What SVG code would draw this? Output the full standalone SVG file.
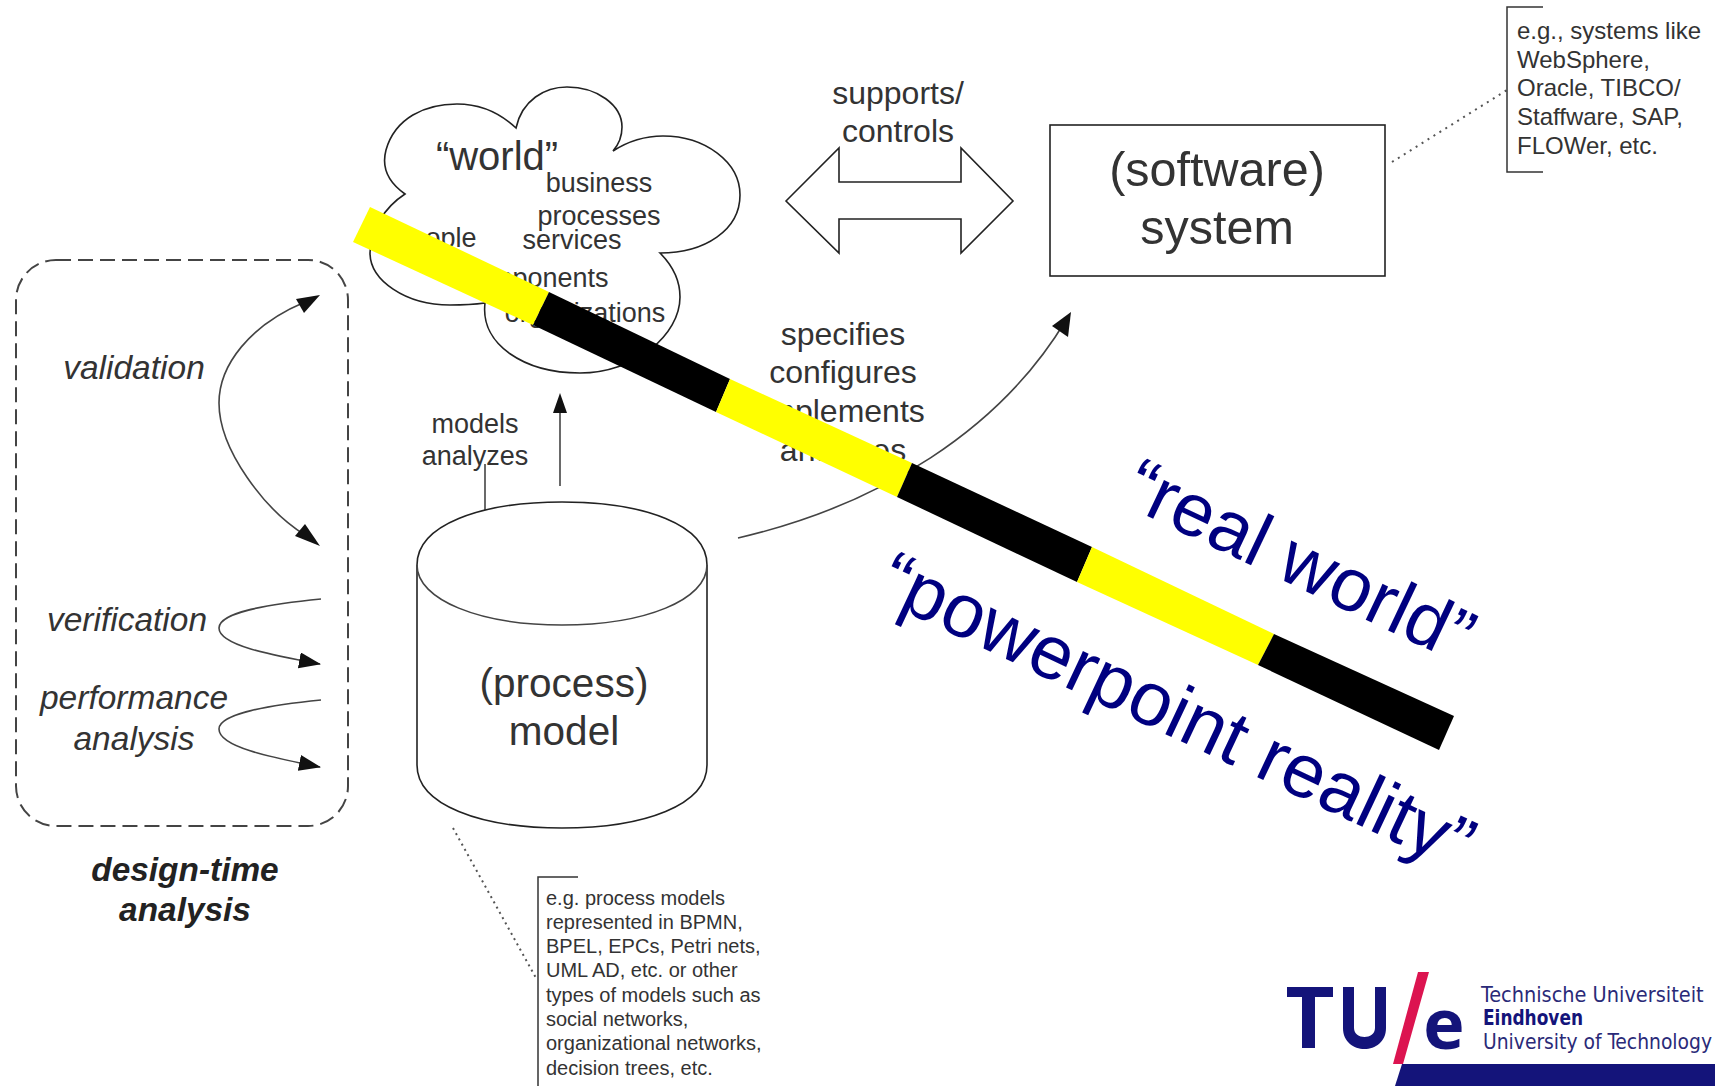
<svg xmlns="http://www.w3.org/2000/svg" width="1715" height="1086" viewBox="0 0 1715 1086">
<style>
text{font-family:"Liberation Sans",Arial,sans-serif;fill:#333;text-anchor:middle}
.ln{fill:none;stroke:#444;stroke-width:1.6}
.bx{fill:#fff;stroke:#222;stroke-width:1.6}
.it{font-style:italic;font-size:33.5px}
.s{text-anchor:start}
.w{font-size:27px}
.y{fill:#ffff00}.k{fill:#000}
.logo{fill:#14147a}
.lt{text-anchor:start;font-family:"DejaVu Sans",sans-serif;font-stretch:condensed;font-size:21.5px;fill:#2a2a78}
text.bi{font-weight:bold;font-style:italic;font-size:33.4px;fill:#222}
text.blue{font-size:75px;fill:#000080;text-anchor:start}
</style>
<defs>
<marker id="ah" markerWidth="24" markerHeight="18" refX="21" refY="8" orient="auto" markerUnits="userSpaceOnUse"><path d="M0 0L22 8L0 16z" fill="#111"/></marker>
</defs>
<rect width="1715" height="1086" fill="#fff"/>
<g id="design-time">
<rect x="16" y="260" width="332" height="566" rx="40" fill="none" stroke="#444" stroke-width="2" stroke-dasharray="15 7"/>
<text class="it" x="134" y="379">validation</text>
<text class="it" x="127" y="631">verification</text>
<text class="it" x="134" y="709">performance</text>
<text class="it" x="134" y="750">analysis</text>
<text class="bi" x="185" y="881">design-time</text>
<text class="bi" x="185" y="921">analysis</text>
</g>
<g id="connectors">
<path class="ln" d="M305 302C250 325 219 365 219 403C219 450 265 510 305 535"/>
<path d="M320 295L304 313L296 299z" fill="#111"/><path d="M320 546L295 536L305 524z" fill="#111"/>
<path class="ln" d="M321 599C270 604 219 612 219 628C219 645 270 655 320 664" marker-end="url(#ah)"/>
<path class="ln" d="M321 700C270 705 219 714 219 729C219 747 270 757 320 767" marker-end="url(#ah)"/>
<path class="ln" d="M485 510V464"/>
<path class="ln" d="M560 486V400"/>
<path d="M560 393L567 413H553z" fill="#111"/>
<path class="ln" d="M738 538C880 505 1000 430 1066 320"/>
<path d="M1071 312L1068 337L1052 326z" fill="#111"/>
<path d="M1392 162L1507 90" fill="none" stroke="#555" stroke-width="2" stroke-dasharray="2 5"/>
<path d="M453 828L536 978" fill="none" stroke="#555" stroke-width="2" stroke-dasharray="2 4"/>
</g>
<g id="world">
<path class="bx" stroke-width="1.5" d="M516 128C522 100 545 87 567 87C597 87 622 105 622 127C622 135 620 143 613 151C630 140 645 136 663 136C705 136 740 162 740 195C740 230 705 253 660 253C672 265 680 280 680 297C680 335 635 373 580 373C525 373 480 345 485 303C470 305 460 305 450 305C405 305 370 280 370 253C370 230 385 207 405 194C385 180 382 165 386 150C395 118 425 104 457 104C480 104 500 113 516 128z"/>
<text x="497" y="170" font-size="40">“world”</text>
<text class="w" x="599" y="192">business</text>
<text class="w" x="599" y="225">processes</text>
<text class="w" x="572" y="249">services</text>
<text class="w" x="436" y="247">people</text>
<text class="w" x="535" y="287">components</text>
<text class="w" x="585" y="322">organizations</text>
</g>
<g id="arrow-supports">
<path class="bx" d="M786 201L839 148V182H961V148L1013 201L961 253V219H839V253z" stroke="#444"/>
<text x="898" y="104" font-size="32">supports/</text>
<text x="898" y="142" font-size="32">controls</text>
</g>
<g id="software">
<rect class="bx" x="1050" y="125" width="335" height="151"/>
<text x="1217" y="186" font-size="48.5">(software)</text>
<text x="1217" y="244" font-size="48.5">system</text>
</g>
<g id="note-system">
<path d="M1543 7H1507V172H1543" fill="none" stroke="#333" stroke-width="1.5"/>
<text class="s" x="1517" y="39" font-size="24">e.g., systems like</text>
<text class="s" x="1517" y="68" font-size="24">WebSphere,</text>
<text class="s" x="1517" y="96" font-size="24">Oracle, TIBCO/</text>
<text class="s" x="1517" y="125" font-size="24">Staffware, SAP,</text>
<text class="s" x="1517" y="154" font-size="24">FLOWer,  etc.</text>
</g>
<g id="labels">
<text class="w" x="475" y="433">models</text>
<text class="w" x="475" y="465">analyzes</text>
<text x="843" y="345" font-size="32">specifies</text>
<text x="843" y="383" font-size="32">configures</text>
<text x="843" y="422" font-size="32">implements</text>
<text x="843" y="461" font-size="32">analyzes</text>
</g>
<g id="model">
<path class="bx" d="M417 565C417 525 480 502 562 502C645 502 707 525 707 565V765C707 805 645 828 562 828C480 828 417 805 417 765z"/>
<path class="ln" d="M417 565C417 600 480 625 562 625C645 625 707 600 707 565"/>
<text x="564" y="697" font-size="40.5">(process)</text>
<text x="564" y="745" font-size="40.5">model</text>
</g>
<g id="note-model">
<path d="M578 877H538V1086" fill="none" stroke="#333" stroke-width="1.5"/>
<text class="s" x="546" y="905" font-size="20">e.g. process models</text>
<text class="s" x="546" y="929" font-size="20">represented in BPMN,</text>
<text class="s" x="546" y="953" font-size="20">BPEL, EPCs, Petri nets,</text>
<text class="s" x="546" y="977" font-size="20">UML AD, etc. or other</text>
<text class="s" x="546" y="1002" font-size="20">types of models such as</text>
<text class="s" x="546" y="1026" font-size="20">social networks,</text>
<text class="s" x="546" y="1050" font-size="20">organizational networks,</text>
<text class="s" x="546" y="1075" font-size="20">decision trees, etc.</text>
</g>
<g id="bar">
<path class="y" d="M370 207L549 292L533 325L353 242z"/>
<path class="k" d="M549 292L730 379L716 412L533 325z"/>
<path class="y" d="M730 379L912 463L897 497L716 412z"/>
<path class="k" d="M912 463L1092 547L1077 582L897 497z"/>
<path class="y" d="M1092 547L1274 634L1258 665L1077 582z"/>
<path class="k" d="M1274 634L1454 716L1439 750L1258 665z"/>
</g>
<g id="quotes">
<text class="blue" transform="translate(1120 503) rotate(25.4)">“real world”</text>
<text class="blue" transform="translate(874 597) rotate(25.2)" style="font-size:76px">“powerpoint reality”</text>
</g>
<g id="logo">
<path class="logo" d="M1287 987H1333V997H1315V1048H1302V997H1287z"/>
<path class="logo" d="M1343 987H1354V1028C1354 1040 1375 1040 1375 1028V987H1386V1028C1386 1056 1343 1056 1343 1028z"/>
<path d="M1418 972H1429L1403 1064H1393z" fill="#dc1450"/>
<text x="1444" y="1049" font-size="70" font-weight="bold" style="fill:#14147a;font-family:'Noto Sans',sans-serif">e</text>
<text class="lt" x="1481" y="1002">Technische Universiteit</text>
<text class="lt" x="1483" y="1025" font-weight="bold" style="fill:#14147a" textLength="100" lengthAdjust="spacingAndGlyphs">Eindhoven</text>
<text class="lt" x="1483" y="1049" textLength="229" lengthAdjust="spacingAndGlyphs">University of Technology</text>
<path class="logo" d="M1402 1064H1715V1086H1395z"/>
</g>
</svg>
